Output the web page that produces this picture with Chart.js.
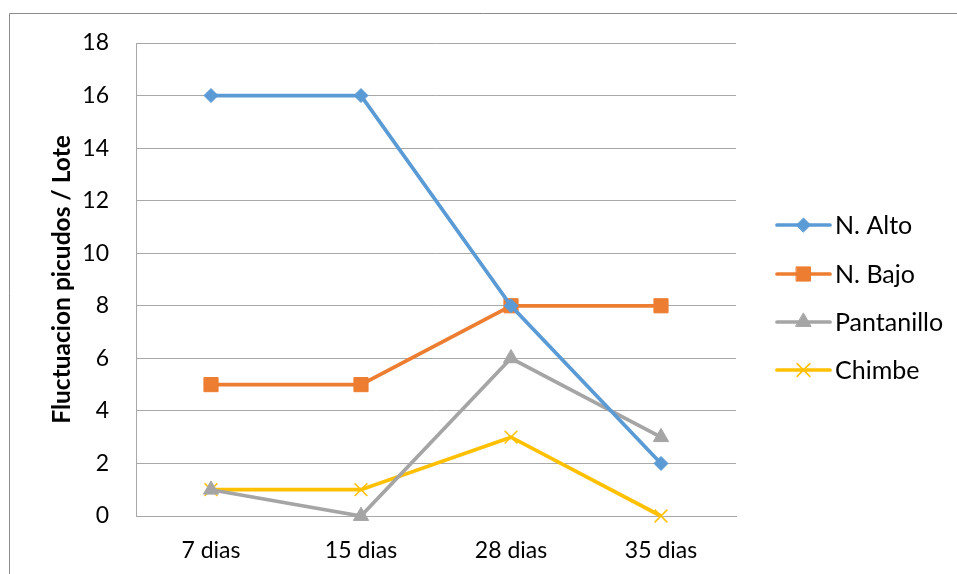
<!DOCTYPE html>
<html>
<head>
<meta charset="utf-8">
<script src="https://cdn.jsdelivr.net/npm/chart.js@4/dist/chart.umd.min.js"></script>
<style>
  html, body { margin: 0; padding: 0; background: #fff; }
  #wrap { width: 957px; height: 574px; position: relative; }
</style>
</head>
<body>
<div id="wrap"><canvas id="c" width="957" height="574"></canvas></div>
<script>
// Weevil counts per lot, sampled at four intervals
const categories = ['7 dias', '15 dias', '28 dias', '35 dias'];
const seriesNames = ['N. Alto', 'N. Bajo', 'Pantanillo', 'Chimbe'];
const nAlto = [16, 16, 8, 2];
const nBajo = [5, 5, 8, 8];
const pantanillo = [1, 0, 6, 3];
const chimbe = [1, 1, 3, 0];
const yTickValues = [0, 2, 4, 6, 8, 10, 12, 14, 16, 18];

const FONT = 'Lato, "Open Sans", sans-serif';
const GRID = '#a8a8a8';

const styles = [
  { color: '#5B9BD5', point: 'rectRot', radius: 7, border: 1 },
  { color: '#ED7D31', point: 'rect', radius: 10, border: 1 },
  { color: '#A5A5A5', point: 'triangle', radius: 8.8, border: 1 },
  { color: '#FFC000', point: 'crossRot', radius: 9, border: 1.5 }
];

const values = [nAlto, nBajo, pantanillo, chimbe];
const datasets = values.map((v, i) => ({
  label: seriesNames[i],
  data: v,
  borderColor: styles[i].color,
  backgroundColor: styles[i].color,
  borderWidth: 3.7,
  pointStyle: styles[i].point,
  pointRadius: styles[i].radius,
  pointHoverRadius: styles[i].radius,
  pointBorderWidth: styles[i].border,
  pointBorderColor: styles[i].color,
  pointBackgroundColor: styles[i].color,
  tension: 0,
  clip: false
}));

// Outer frame of the chart object
const framePlugin = {
  id: 'frame',
  beforeDraw(chart) {
    const ctx = chart.ctx;
    ctx.save();
    ctx.strokeStyle = '#8c8c8c';
    ctx.lineWidth = 1;
    ctx.beginPath();
    ctx.moveTo(9.5, 574);
    ctx.lineTo(9.5, 13.5);
    ctx.lineTo(957, 13.5);
    ctx.stroke();
    ctx.restore();
  }
};

// Legend with line + marker swatches on the right side
const legendPlugin = {
  id: 'lineLegend',
  afterDraw(chart) {
    const ctx = chart.ctx;
    const x0 = 777, x1 = 830, tx = 835;
    const rows = [225, 274, 322, 370];
    ctx.save();
    chart.data.datasets.forEach((ds, i) => {
      const y = rows[i];
      ctx.strokeStyle = ds.borderColor;
      ctx.lineWidth = ds.borderWidth;
      ctx.lineCap = 'round';
      ctx.beginPath();
      ctx.moveTo(x0, y);
      ctx.lineTo(x1, y);
      ctx.stroke();
      ctx.fillStyle = ds.pointBackgroundColor;
      ctx.strokeStyle = ds.pointBorderColor;
      ctx.lineWidth = ds.pointBorderWidth;
      Chart.helpers.drawPoint(ctx, {
        pointStyle: ds.pointStyle,
        radius: ds.pointRadius,
        rotation: 0,
        borderWidth: ds.pointBorderWidth
      }, (x0 + x1) / 2, y);
      ctx.fillStyle = '#000';
      ctx.font = '25px ' + FONT;
      ctx.textBaseline = 'middle';
      ctx.textAlign = 'left';
      ctx.fillText(ds.label, tx, y + 1);
    });
    ctx.restore();
  }
};

new Chart(document.getElementById('c'), {
  type: 'line',
  data: { labels: categories, datasets },
  plugins: [framePlugin, legendPlugin],
  options: {
    responsive: false,
    animation: false,
    events: [],
    layout: { padding: { left: 0, top: 43, right: 221, bottom: 0 } },
    plugins: { legend: { display: false }, tooltip: { enabled: false } },
    scales: {
      x: {
        offset: true,
        grid: { display: false, drawTicks: false },
        border: { display: true, color: GRID, width: 1 },
        ticks: { color: '#000', font: { family: FONT, size: 23 }, padding: 21 },
        afterFit(s) { s.height = 58; }
      },
      y: {
        min: 0,
        max: 18,
        afterBuildTicks(s) { s.ticks = yTickValues.map(v => ({ value: v })); },
        grid: { color: GRID, drawTicks: false, lineWidth: 1 },
        border: { display: true, color: GRID, width: 1 },
        ticks: { color: '#000', font: { family: FONT, size: 23 }, padding: 27 },
        title: {
          display: true,
          text: 'Fluctuacion picudos / Lote',
          color: '#000',
          font: { family: FONT, size: 24.5, weight: 'bold' },
          padding: { top: 47, bottom: 0 }
        },
        afterFit(s) { s.width = 136; }
      }
    }
  }
});
</script>
</body>
</html>
